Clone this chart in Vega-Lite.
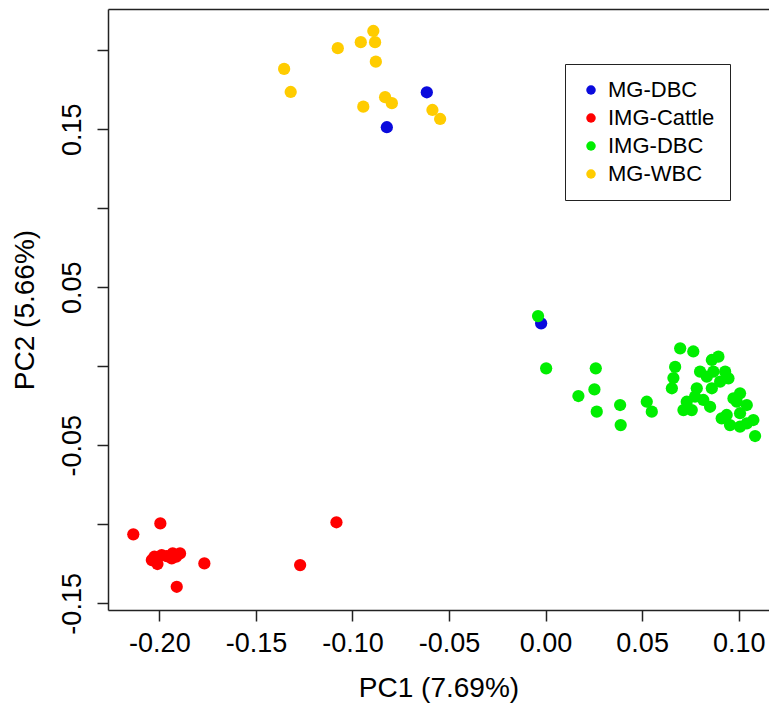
{
  "$schema": "https://vega.github.io/schema/vega-lite/v6.json",
  "width": 661,
  "height": 601,
  "autosize": {"type": "none"},
  "padding": {"left": 108, "top": 9, "right": 0, "bottom": 97},
  "background": "white",
  "config": {
    "locale": {"number": {"decimal": ".", "thousands": ",", "grouping": [3], "currency": ["$", ""], "minus": "-"}},
    "view": {"stroke": null},
    "font": "Liberation Sans",
    "axis": {
      "labelFont": "Liberation Sans",
      "titleFont": "Liberation Sans",
      "labelColor": "black",
      "titleColor": "black",
      "titleFontWeight": "normal",
      "domainColor": "#222",
      "domainWidth": 1.5,
      "tickColor": "#222",
      "tickWidth": 1.5,
      "tickSize": 11,
      "grid": false
    }
  },
  "data": {
    "values": [
      {"PC1": -0.0615, "PC2": 0.1734, "group": "MG-DBC"},
      {"PC1": -0.0822, "PC2": 0.1513, "group": "MG-DBC"},
      {"PC1": -0.0023, "PC2": 0.0272, "group": "MG-DBC"},
      {"PC1": -0.2135, "PC2": -0.1063, "group": "IMG-Cattle"},
      {"PC1": -0.1995, "PC2": -0.0994, "group": "IMG-Cattle"},
      {"PC1": -0.1083, "PC2": -0.0987, "group": "IMG-Cattle"},
      {"PC1": -0.1767, "PC2": -0.1247, "group": "IMG-Cattle"},
      {"PC1": -0.1271, "PC2": -0.1258, "group": "IMG-Cattle"},
      {"PC1": -0.1910, "PC2": -0.1395, "group": "IMG-Cattle"},
      {"PC1": -0.2026, "PC2": -0.1205, "group": "IMG-Cattle"},
      {"PC1": -0.2039, "PC2": -0.1226, "group": "IMG-Cattle"},
      {"PC1": -0.2010, "PC2": -0.1251, "group": "IMG-Cattle"},
      {"PC1": -0.1988, "PC2": -0.1194, "group": "IMG-Cattle"},
      {"PC1": -0.1962, "PC2": -0.1201, "group": "IMG-Cattle"},
      {"PC1": -0.1936, "PC2": -0.1215, "group": "IMG-Cattle"},
      {"PC1": -0.1931, "PC2": -0.1184, "group": "IMG-Cattle"},
      {"PC1": -0.1893, "PC2": -0.1184, "group": "IMG-Cattle"},
      {"PC1": -0.1913, "PC2": -0.1205, "group": "IMG-Cattle"},
      {"PC1": -0.0039, "PC2": 0.0318, "group": "IMG-DBC"},
      {"PC1": 0.0003, "PC2": -0.0013, "group": "IMG-DBC"},
      {"PC1": 0.0170, "PC2": -0.0188, "group": "IMG-DBC"},
      {"PC1": 0.0260, "PC2": -0.0013, "group": "IMG-DBC"},
      {"PC1": 0.0253, "PC2": -0.0146, "group": "IMG-DBC"},
      {"PC1": 0.0265, "PC2": -0.0287, "group": "IMG-DBC"},
      {"PC1": 0.0386, "PC2": -0.0245, "group": "IMG-DBC"},
      {"PC1": 0.0389, "PC2": -0.0372, "group": "IMG-DBC"},
      {"PC1": 0.0524, "PC2": -0.0224, "group": "IMG-DBC"},
      {"PC1": 0.0550, "PC2": -0.0287, "group": "IMG-DBC"},
      {"PC1": 0.0697, "PC2": 0.0114, "group": "IMG-DBC"},
      {"PC1": 0.0765, "PC2": 0.0094, "group": "IMG-DBC"},
      {"PC1": 0.0671, "PC2": -0.0004, "group": "IMG-DBC"},
      {"PC1": 0.0662, "PC2": -0.0074, "group": "IMG-DBC"},
      {"PC1": 0.0654, "PC2": -0.0139, "group": "IMG-DBC"},
      {"PC1": 0.0714, "PC2": -0.0277, "group": "IMG-DBC"},
      {"PC1": 0.0731, "PC2": -0.0224, "group": "IMG-DBC"},
      {"PC1": 0.0757, "PC2": -0.0277, "group": "IMG-DBC"},
      {"PC1": 0.0774, "PC2": -0.0192, "group": "IMG-DBC"},
      {"PC1": 0.0783, "PC2": -0.0139, "group": "IMG-DBC"},
      {"PC1": 0.0800, "PC2": -0.0034, "group": "IMG-DBC"},
      {"PC1": 0.0835, "PC2": -0.0066, "group": "IMG-DBC"},
      {"PC1": 0.0861, "PC2": 0.0040, "group": "IMG-DBC"},
      {"PC1": 0.0895, "PC2": 0.0061, "group": "IMG-DBC"},
      {"PC1": 0.0930, "PC2": -0.0034, "group": "IMG-DBC"},
      {"PC1": 0.0947, "PC2": -0.0076, "group": "IMG-DBC"},
      {"PC1": 0.0904, "PC2": -0.0097, "group": "IMG-DBC"},
      {"PC1": 0.0852, "PC2": -0.0256, "group": "IMG-DBC"},
      {"PC1": 0.1007, "PC2": -0.0171, "group": "IMG-DBC"},
      {"PC1": 0.0990, "PC2": -0.0224, "group": "IMG-DBC"},
      {"PC1": 0.1042, "PC2": -0.0245, "group": "IMG-DBC"},
      {"PC1": 0.0938, "PC2": -0.0308, "group": "IMG-DBC"},
      {"PC1": 0.1007, "PC2": -0.0297, "group": "IMG-DBC"},
      {"PC1": 0.0912, "PC2": -0.0329, "group": "IMG-DBC"},
      {"PC1": 0.0955, "PC2": -0.0372, "group": "IMG-DBC"},
      {"PC1": 0.1007, "PC2": -0.0382, "group": "IMG-DBC"},
      {"PC1": 0.1076, "PC2": -0.0340, "group": "IMG-DBC"},
      {"PC1": 0.1085, "PC2": -0.0441, "group": "IMG-DBC"},
      {"PC1": 0.1042, "PC2": -0.0361, "group": "IMG-DBC"},
      {"PC1": 0.0973, "PC2": -0.0203, "group": "IMG-DBC"},
      {"PC1": 0.0817, "PC2": -0.0213, "group": "IMG-DBC"},
      {"PC1": 0.0869, "PC2": -0.0034, "group": "IMG-DBC"},
      {"PC1": 0.0861, "PC2": -0.0139, "group": "IMG-DBC"},
      {"PC1": -0.1354, "PC2": 0.1882, "group": "MG-WBC"},
      {"PC1": -0.1320, "PC2": 0.1736, "group": "MG-WBC"},
      {"PC1": -0.1076, "PC2": 0.2013, "group": "MG-WBC"},
      {"PC1": -0.0957, "PC2": 0.2051, "group": "MG-WBC"},
      {"PC1": -0.0892, "PC2": 0.2122, "group": "MG-WBC"},
      {"PC1": -0.0883, "PC2": 0.2051, "group": "MG-WBC"},
      {"PC1": -0.0879, "PC2": 0.1928, "group": "MG-WBC"},
      {"PC1": -0.0944, "PC2": 0.1643, "group": "MG-WBC"},
      {"PC1": -0.0831, "PC2": 0.1703, "group": "MG-WBC"},
      {"PC1": -0.0796, "PC2": 0.1665, "group": "MG-WBC"},
      {"PC1": -0.0586, "PC2": 0.1622, "group": "MG-WBC"},
      {"PC1": -0.0546, "PC2": 0.1565, "group": "MG-WBC"}
    ]
  },
  "layer": [
    {
      "mark": {"type": "point", "filled": true, "opacity": 1, "size": 150, "shape": "circle", "strokeWidth": 0},
      "encoding": {
        "x": {
          "field": "PC1", "type": "quantitative",
          "scale": {"domain": [-0.2266, 0.1157], "nice": false, "zero": false},
          "axis": {
            "orient": "bottom",
            "values": [-0.2, -0.15, -0.1, -0.05, 0, 0.05, 0.1],
            "format": ".2f",
            "labelFontSize": 27,
            "labelPadding": 9,
            "labelFlush": false,
            "labelOverlap": false,
            "title": "PC1 (7.69%)",
            "titleFontSize": 28,
            "titlePadding": 18
          }
        },
        "y": {
          "field": "PC2", "type": "quantitative",
          "scale": {"domain": [-0.1542, 0.2261], "nice": false, "zero": false},
          "axis": {
            "orient": "left",
            "values": [-0.15, -0.1, -0.05, 0, 0.05, 0.1, 0.15, 0.2],
            "labelExpr": "abs(round(datum.value*100)) % 10 == 5 ? format(datum.value, '.2f') : ''",
            "labelAngle": 270,
            "labelAlign": "center",
            "labelBaseline": "bottom",
            "labelFontSize": 27,
            "labelPadding": 11,
            "labelFlush": false,
            "labelOverlap": false,
            "title": "PC2 (5.66%)",
            "titleFontSize": 28,
            "titlePadding": 19
          }
        },
        "color": {
          "field": "group", "type": "nominal",
          "scale": {
            "domain": ["MG-DBC", "IMG-Cattle", "IMG-DBC", "MG-WBC"],
            "range": ["#0A0ADD", "#FF0000", "#00EE00", "#FFCC00"]
          },
          "legend": {
            "title": null,
            "orient": "none",
            "legendX": 457,
            "legendY": 55,
            "strokeColor": "#222",
            "fillColor": "white",
            "padding": 15,
            "labelFont": "Liberation Sans",
            "labelFontSize": 22,
            "labelColor": "black",
            "labelOffset": 6,
            "symbolType": "circle",
            "symbolSize": 90,
            "symbolStrokeWidth": 0,
            "symbolOpacity": 1,
            "rowPadding": 6
          }
        }
      }
    },
    {
      "mark": {"type": "point", "opacity": 0, "size": 1},
      "encoding": {
        "x": {
          "field": "PC1", "type": "quantitative",
          "axis": {"orient": "top", "labels": false, "ticks": false, "title": null}
        },
        "y": {"field": "PC2", "type": "quantitative"}
      }
    }
  ],
  "resolve": {"axis": {"x": "independent"}}
}
